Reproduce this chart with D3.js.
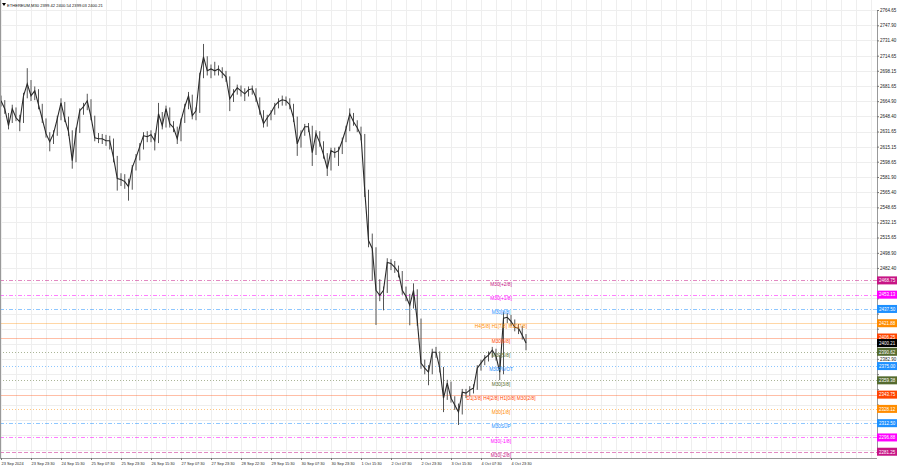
<!DOCTYPE html>
<html><head><meta charset="utf-8">
<script src="https://cdn.jsdelivr.net/npm/d3@7/dist/d3.min.js"></script>
<style>
html,body{margin:0;padding:0;background:#fff;}
svg{display:block;font-family:"Liberation Sans",Arial,sans-serif;}
</style></head><body>
<svg id="c" width="900" height="468"></svg>
<script>
// ---- data (2-hour aggregated bars) ----
const closes = [2665.3,2656.6,2638.0,2656.6,2646.7,2642.4,2670.8,2683.9,2670.8,2676.2,
2661.0,2645.6,2629.3,2620.5,2629.3,2645.6,2663.1,2645.6,2631.5,2599.8,
2632.5,2654.4,2658.8,2665.3,2647.8,2624.9,2623.8,2623.8,2621.6,2621.6,
2603.1,2580.1,2579.1,2576.9,2571.4,2592.1,2603.1,2615.1,2627.1,2626.0,
2628.2,2621.6,2651.1,2638.0,2656.6,2640.2,2635.8,2623.8,2643.5,2658.8,
2670.8,2648.9,2654.4,2692.6,2713.3,2698.1,2700.2,2698.1,2700.2,2695.9,
2691.5,2667.5,2674.0,2679.5,2676.2,2672.9,2677.3,2678.4,2668.6,2654.4,
2640.2,2646.7,2652.2,2659.9,2664.2,2666.4,2665.3,2661.0,2646.7,2618.2,
2629.3,2636.9,2636.9,2608.5,2629.3,2619.5,2606.3,2591.1,2610.7,2608.5,
2610.7,2621.6,2634.7,2651.1,2642.4,2635.8,2627.1,2567.0,2512.4,2503.7,
2457.9,2452.4,2457.9,2488.4,2487.3,2482.9,2477.5,2457.9,2451.3,2441.5,
2457.9,2425.1,2378.2,2372.7,2368.3,2390.2,2390.2,2372.7,2339.9,2356.3,
2339.9,2332.3,2324.6,2346.5,2345.4,2348.7,2350.9,2372.7,2378.2,2383.6,
2386.9,2392.3,2385.8,2368.3,2427.3,2428.4,2424.0,2417.5,2416.4,2408.7,2400.21];
const highs = [2671,2666,2652,2661,2658,2650,2674,2701,2688,2681,
2678,2662,2646,2631,2633,2649,2668,2664,2648,2633,
2636,2657,2663,2673,2667,2649,2630,2629,2628,2627,
2624,2605,2586,2585,2580,2595,2607,2619,2631,2632,
2633,2630,2663,2653,2660,2658,2643,2637,2646,2662,
2675,2672,2658,2696,2727.5,2714,2705,2708,2704,2702,
2698,2692,2678,2683,2682,2679,2681,2682,2679,2669,
2655,2650,2655,2663,2668,2671,2670,2668,2662,2648,
2633,2640,2641,2638,2633,2632,2621,2608,2614,2614,
2615,2625,2638,2657,2652,2644,2637,2629,2568,2520,
2505,2470,2462,2493,2492,2490,2485,2479,2462,2454,
2465.5,2459,2427,2382,2376,2394,2396,2391,2374,2360,
2358,2342,2334,2350,2350,2353,2355,2376,2382,2387,
2391,2396,2394,2387,2433.8,2433,2431,2426,2421,2419,2410];
const lows = [2659,2651,2634,2641,2643,2632,2641,2668,2665,2666,
2656,2641,2625,2610,2618,2627,2644,2642,2627,2591,
2598,2630,2650,2655,2644,2621,2619,2618,2616,2612,
2598,2567,2572,2569,2556,2568,2589,2600,2612,2620,
2620,2611,2619,2634,2636,2636,2631,2618,2621,2641,
2656,2645,2644,2652,2690,2693,2690,2693,2693,2690,
2686,2654,2664,2672,2670,2665,2670,2672,2664,2650,
2636,2637,2644,2650,2657,2660,2660,2656,2642,2605,
2614,2627,2631,2594,2606,2615,2602,2583,2589,2603,
2594,2607,2620,2632,2638,2631,2622,2560,2505,2468.8,
2420,2446,2436,2455,2480,2477,2472,2453,2446,2419.6,
2438,2419,2372,2366,2354,2366,2384,2368,2324.6,2338,
2335,2327,2310.5,2322,2340,2342,2345,2349,2370,2376,
2380,2384,2381,2359.6,2366,2422,2419,2413,2410,2404,2392.3];
const timeLabels = ["23 Sep 2024","23 Sep 23:30","24 Sep 15:30","25 Sep 07:30","25 Sep 23:30",
"26 Sep 15:30","27 Sep 07:30","27 Sep 23:30","28 Sep 22:30","29 Sep 15:30","30 Sep 07:30",
"30 Sep 23:30","1 Oct 15:30","2 Oct 07:30","2 Oct 23:30","3 Oct 15:30","4 Oct 07:30","4 Oct 23:30"];
const priceTicks = [2764.65,2747.90,2731.40,2714.65,2698.15,2681.65,2664.90,2648.40,2631.65,
2615.15,2598.65,2581.90,2565.40,2548.65,2532.15,2515.65,2498.90,2482.40,2465.65,2449.15,
2432.40,2415.90,2399.40,2382.90,2366.15,2349.65,2332.90,2316.40,2299.90,2283.15];
const levelValues = [2468.75,2453.13,2437.50,2421.88,2406.25,2390.62,2375.00,2359.38,2343.75,2328.12,2312.50,2296.88,2281.25];
const levelNames = ["M30[+2/8]","M30[+1/8]","M30[8/8]","H4[5/8] H1[7/8] M30[7/8]","M30[6/8]","M30[5/8]",
"M30PIVOT","M30[3/8]","D1[3/8] H4[2/8] H1[0/8] M30[2/8]","M30[1/8]","M30SUP","M30[-1/8]","M30[-2/8]"];
const levelColors = ["#c71585","#ff00ff","#1e90ff","#ff8c00","#ff4500","#556b2f","#1e90ff","#556b2f","#ff4500","#ff8c00","#1e90ff","#ff00ff","#c71585"];
const levelDash = ["4,2,1,2","4,2,1,2","4,2,1,2",null,null,"1,2","1,2","1,2",null,"1,2","4,2,1,2","4,2,1,2","4,2"];
const title = "ETHEREUM,M30  2399.42 2400.54 2399.03 2400.21";
const lastPrice = 2400.21;

// ---- scales ----
const svg = d3.select("#c");
const plotR = 877, plotB = 458;
const x = d3.scaleLinear().domain([0, 140]).range([1, 526]);
const y = d3.scaleLinear().domain([2283.15, 2764.65]).range([450, 10]);

// grid
const grid = svg.append("g");
const vIdx = d3.range(0, 234, 4);
grid.selectAll("line.v").data(vIdx).join("line")
  .attr("x1", d => Math.round(x(d)) + 0.5).attr("x2", d => Math.round(x(d)) + 0.5)
  .attr("y1", 0).attr("y2", plotB).attr("stroke", "#eeeeee");
grid.selectAll("line.h").data(priceTicks).join("line")
  .attr("x1", 0).attr("x2", plotR).attr("y1", d => Math.round(y(d)) + 0.5).attr("y2", d => Math.round(y(d)) + 0.5)
  .attr("stroke", "#eeeeee");

// level lines
svg.append("g").selectAll("line").data(levelValues).join("line")
  .attr("x1", 0).attr("x2", plotR)
  .attr("y1", d => Math.round(y(d)) + 0.5).attr("y2", d => Math.round(y(d)) + 0.5)
  .attr("stroke", (d, i) => levelColors[i])
  .attr("stroke-opacity", (d, i) => levelDash[i] ? 0.5 : 0.35)
  .attr("stroke-dasharray", (d, i) => levelDash[i]);

// price bars
const pg = svg.append("g");
pg.selectAll("line").data(closes).join("line")
  .attr("x1", (d, i) => x(i)).attr("x2", (d, i) => x(i))
  .attr("y1", (d, i) => y(highs[i])).attr("y2", (d, i) => y(lows[i]))
  .attr("stroke", "#555").attr("stroke-width", 1);
pg.append("path").datum(closes)
  .attr("d", d3.line().x((d, i) => x(i)).y(d => y(d)))
  .attr("fill", "none").attr("stroke", "#2a2a2a").attr("stroke-width", 1.1);

// level labels
svg.append("g").selectAll("text").data(levelValues).join("text")
  .attr("x", 501).attr("y", d => y(d) + 5.2)
  .attr("text-anchor", "middle").attr("font-size", 4.8)
  .attr("fill", (d, i) => levelColors[i]).text((d, i) => levelNames[i]);

// right axis
const boxVals = levelValues.concat([lastPrice]);
const boxCols = levelColors.concat(["#000"]);
const ax = svg.append("g").attr("transform", `translate(${plotR},0)`)
  .call(d3.axisRight(y).tickValues(priceTicks).tickFormat(d3.format(".2f")).tickSize(2).tickPadding(1));
ax.select(".domain").attr("stroke", "#999");
ax.selectAll(".tick line").attr("stroke", "#777");
ax.selectAll("text").attr("font-size", 4.5).attr("fill", "#222")
  .attr("visibility", d => boxVals.some(b => Math.abs(y(b) - y(d)) < 6.5) ? "hidden" : null);

// level boxes on axis
const boxes = svg.append("g");
boxes.selectAll("rect").data(boxVals).join("rect")
  .attr("x", plotR).attr("y", d => y(d) - 4).attr("width", 20).attr("height", 8)
  .attr("fill", (d, i) => boxCols[i]);
boxes.selectAll("text").data(boxVals).join("text")
  .attr("x", plotR + 2).attr("y", d => y(d) + 1.8)
  .attr("font-size", 4.5).attr("fill", "#fff").text(d => d3.format(".2f")(d));

// bottom axis
svg.append("line").attr("x1", 0).attr("x2", plotR).attr("y1", plotB + 0.5).attr("y2", plotB + 0.5).attr("stroke", "#999");
svg.append("line").attr("x1", 0.5).attr("x2", 0.5).attr("y1", 0).attr("y2", plotB).attr("stroke", "#999");
const tIdx = timeLabels.map((d, i) => i * 8);
const bx = svg.append("g").attr("transform", `translate(0,${plotB})`)
  .call(d3.axisBottom(x).tickValues(tIdx).tickFormat((d, i) => timeLabels[i]).tickSize(2).tickPadding(2));
bx.select(".domain").remove();
bx.selectAll(".tick line").attr("stroke", "#777");
bx.selectAll("text").attr("text-anchor", "start").attr("dx", 0).attr("font-size", 3.9).attr("fill", "#222");

// title
svg.append("path").attr("d", "M2,3 L6,3 L4,6 Z").attr("fill", "#000");
svg.append("text").attr("x", 7).attr("y", 6.5).attr("font-size", 4.1).attr("fill", "#111").text(title);
</script>
</body></html>
